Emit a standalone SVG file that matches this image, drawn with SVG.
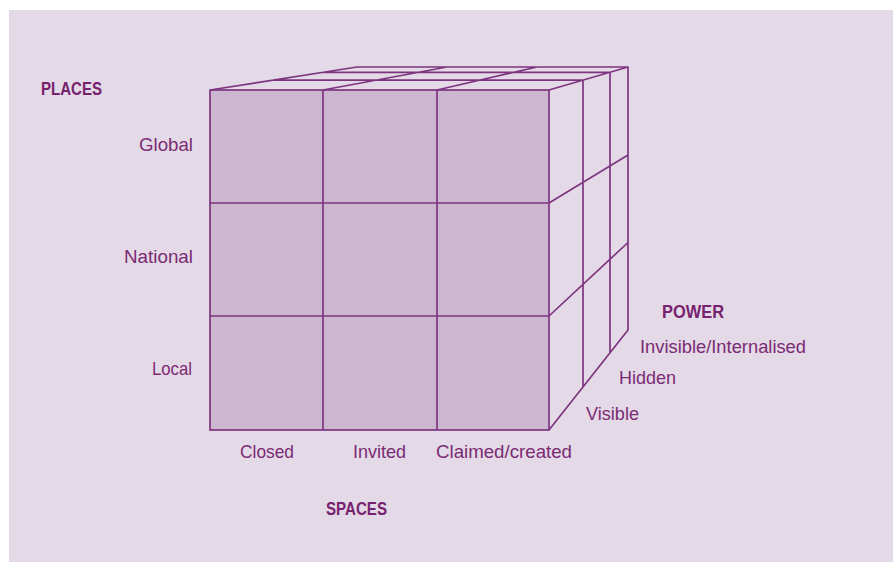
<svg xmlns="http://www.w3.org/2000/svg" width="893" height="562" viewBox="0 0 893 562">
<style>
.ln{fill:none;stroke:#7d3580;stroke-width:1.7;stroke-linejoin:round}
.face{fill:#cdb6cf;stroke:#7d3580;stroke-width:1.7}
.lab{font-family:"Liberation Sans",Arial,sans-serif;font-size:19px;fill:#7a2b73}
.hd{font-family:"Liberation Sans",Arial,sans-serif;font-size:19px;font-weight:bold;fill:#77226f}
</style>
<rect x="0" y="0" width="893" height="562" fill="#ffffff"/>
<rect x="9" y="10" width="884" height="552" fill="#e4d9e7"/>
<g id="cube">
<rect class="face" x="210" y="90" width="339" height="340"/>
<g id="connectors">
<path class="ln" d="M323 90V430M437 90V430M210 203H549M210 316H549"/>
<path class="ln" d="M210 90L357 67H628L549 90M323 90L447 67M437 90L537 67M273 80.1H583M323 72.3H610"/>
<path class="ln" d="M628 67V330L549 430M583 80V387M610 72.3V353M549 203L628 155M549 316L628 242.5"/>
</g>
</g>
<g id="places">
<text class="hd" x="41" y="95" textLength="61" lengthAdjust="spacingAndGlyphs">PLACES</text>
<text class="lab" x="139" y="151" textLength="54" lengthAdjust="spacingAndGlyphs">Global</text>
<text class="lab" x="124" y="263" textLength="69" lengthAdjust="spacingAndGlyphs">National</text>
<text class="lab" x="152" y="375" textLength="40" lengthAdjust="spacingAndGlyphs">Local</text>
</g>
<g id="spaces">
<text class="lab" x="240" y="458" textLength="54" lengthAdjust="spacingAndGlyphs">Closed</text>
<text class="lab" x="353" y="458" textLength="53" lengthAdjust="spacingAndGlyphs">Invited</text>
<text class="lab" x="436" y="458" textLength="136" lengthAdjust="spacingAndGlyphs">Claimed/created</text>
<text class="hd" x="326" y="515" textLength="61" lengthAdjust="spacingAndGlyphs">SPACES</text>
</g>
<g id="power">
<text class="hd" x="662" y="318" textLength="62" lengthAdjust="spacingAndGlyphs">POWER</text>
<text class="lab" x="640" y="353" textLength="166" lengthAdjust="spacingAndGlyphs">Invisible/Internalised</text>
<text class="lab" x="619" y="384" textLength="57" lengthAdjust="spacingAndGlyphs">Hidden</text>
<text class="lab" x="586" y="420" textLength="53" lengthAdjust="spacingAndGlyphs">Visible</text>
</g>
</svg>
